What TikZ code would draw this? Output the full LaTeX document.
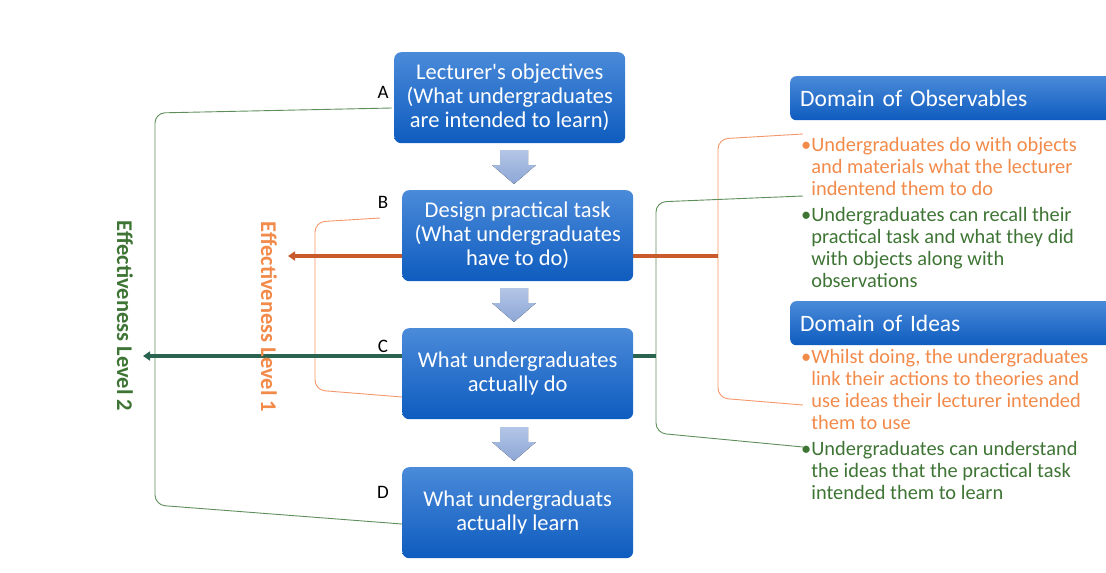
\documentclass[tikz,border=0pt]{standalone}
\usepackage{fontspec}
\setmainfont{Carlito}[Ligatures=TeXOff]
\usetikzlibrary{arrows.meta}
\definecolor{boxtop}{HTML}{4A8AD9}
\definecolor{boxbot}{HTML}{0E5CBF}
\definecolor{arrtop}{HTML}{B4C6E6}
\definecolor{arrbot}{HTML}{8CA6D6}
\definecolor{orangetxt}{HTML}{F28A4A}
\definecolor{greentxt}{HTML}{3E7434}
\definecolor{thinorange}{HTML}{F4976A}
\definecolor{thingreen}{HTML}{5E8F5A}
\definecolor{thickorange}{HTML}{C85A2C}
\definecolor{thickgreen}{HTML}{2A6350}
\newcommand{\bulind}{\hphantom{\textbullet}}
\begin{document}
\begin{tikzpicture}[x=1pt,y=-1pt,
  stage/.style={rounded corners=7pt, top color=boxtop, bottom color=boxbot, draw=none,
     minimum width=231pt, minimum height=91pt, anchor=north west, text=white,
     align=center, font=\fontsize{22.5}{24}\selectfont, inner sep=0pt},
  header/.style={rounded corners=6pt, top color=boxtop, bottom color=boxbot, draw=none,
     minimum width=330pt, minimum height=44pt, anchor=north west, text=white,
     font=\fontsize{23.5}{26}\selectfont, inner xsep=10pt, text width=310pt, align=left},
  letter/.style={font=\fontsize{19}{20}\selectfont, text=black},
  bullet/.style={anchor=north west, align=left, font=\fontsize{20.4}{22.2}\selectfont, inner sep=0pt},
  blockarrow/.style={top color=arrtop, bottom color=arrbot, draw=none},
  thinline/.style={line width=0.9pt, rounded corners=10pt},
  thickarrow/.style={line width=4pt, -{Triangle[length=7pt,width=9pt]}},
  vlabel/.style={rotate=-90, font=\bfseries\fontsize{22.5}{24}\selectfont}
]
\useasboundingbox (0,0) rectangle (1106,573);
% coordinates for connector ends
\coordinate (a1) at (392,108);
\coordinate (d1) at (402,524);
\coordinate (b1) at (380,218);
\coordinate (c1) at (402,397);
\coordinate (o1) at (803,134);
\coordinate (o2) at (803,405);
\coordinate (g1) at (803,196);
\coordinate (g2) at (803,447);
\coordinate (oL) at (288,256);
\coordinate (gL) at (143,356);
\coordinate (oR) at (718,256);
\coordinate (gR) at (656,356);
% thin brackets
\draw[thinline, thingreen] (a1) -- (155,113) -- (155,505) -- (d1);
\draw[thinline, thinorange] (b1) -- (315,222) -- (315,390) -- (c1);
\draw[thinline, thinorange] (o1) -- (718,139) -- (718,398) -- (o2);
\draw[thinline, thingreen] (g1) -- (656,202) -- (656,433) -- (g2);
% thick arrows
\draw[thickarrow, thickorange] (oR) -- (oL);
\draw[thickarrow, thickgreen] (gR) -- (gL);
% stage boxes
\node[stage] (A) at (394,52) {Lecturer's objectives\\(What undergraduates\\are intended to learn)};
\node[stage] (B) at (402,190) {Design practical task\\(What undergraduates\\have to do)};
\node[stage] (C) at (402,328) {What undergraduates\\actually do};
\node[stage] (D) at (402,467) {What undergraduats\\actually learn};
% letters
\node[letter] (la) at (383,92) {A};
\node[letter] (lb) at (383,202) {B};
\node[letter] (lc) at (383,346) {C};
\node[letter] (ld) at (383,492) {D};
% block arrows
\foreach \y in {150,288,427}{
  \fill[blockarrow] (500,\y) -- (528,\y) -- (528,\y+15) -- (536,\y+15) -- (514,\y+34) -- (492,\y+15) -- (500,\y+15) -- cycle;
}
% headers
\node[header] (H1) at (790,76) {Domain of Observables};
\node[header] (H2) at (790,301) {Domain of Ideas};
% bullet texts
\node[bullet, text=orangetxt] (t1) at (801,137) {\textbullet Undergraduates do with objects\\\bulind and materials what the lecturer\\\bulind indentend them to do};
\node[bullet, text=greentxt] (t2) at (801,207) {\textbullet Undergraduates can recall their\\\bulind practical task and what they did\\\bulind with objects along with\\\bulind observations};
\node[bullet, text=orangetxt] (t3) at (801,349) {\textbullet Whilst doing, the undergraduates\\\bulind link their actions to theories and\\\bulind use ideas their lecturer intended\\\bulind them to use};
\node[bullet, text=greentxt] (t4) at (801,441) {\textbullet Undergraduates can understand\\\bulind the ideas that the practical task\\\bulind intended them to learn};
% vertical labels
\node[vlabel, text=greentxt] (v2) at (125,316) {Effectiveness Level 2};
\node[vlabel, text=orangetxt] (v1) at (269,317) {Effectiveness Level 1};
\end{tikzpicture}
\end{document}
